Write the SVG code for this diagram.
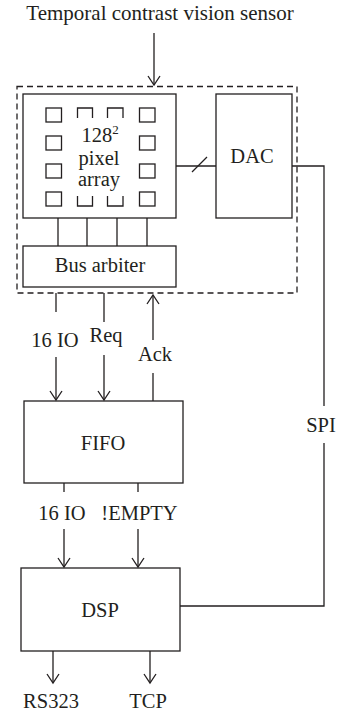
<svg xmlns="http://www.w3.org/2000/svg" width="337" height="714" viewBox="0 0 337 714">
<style>
text{font-family:"Liberation Serif","Times New Roman",serif;font-size:20.5px;fill:#231f20;text-anchor:middle}
.title{font-size:21px}
.box{fill:#fff;stroke:#231f20;stroke-width:1.3}
.ln{fill:none;stroke:#231f20;stroke-width:1.3}
.dash{fill:none;stroke:#231f20;stroke-width:1.3;stroke-dasharray:6 4}
</style>
<defs>
<marker id="ah" markerWidth="14" markerHeight="14" refX="10" refY="7" orient="auto" markerUnits="userSpaceOnUse">
<path d="M1,1 L10,7 L1,13" fill="none" stroke="#231f20" stroke-width="1.3"/>
</marker>
</defs>
<rect x="0" y="0" width="337" height="714" fill="#fff"/>
<text class="title" x="160" y="20">Temporal contrast vision sensor</text>
<g id="sensor">
<rect class="dash" x="17" y="86.5" width="280" height="206.5"/>
</g>
<g id="pixel-array">
<rect class="box" x="23" y="94" width="153" height="124"/>
<g class="ln">
<rect x="46" y="108" width="15.5" height="14"/>
<rect x="46" y="136" width="15.5" height="14"/>
<rect x="46" y="164" width="15.5" height="14"/>
<rect x="46" y="192" width="15.5" height="14"/>
<rect x="139.5" y="108" width="15.5" height="14"/>
<rect x="139.5" y="136" width="15.5" height="14"/>
<rect x="139.5" y="164" width="15.5" height="14"/>
<rect x="139.5" y="192" width="15.5" height="14"/>
<path d="M77.5,118 V108 H92.5 V118 M107.5,118 V108 H123 V118"/>
<path d="M77.5,196 V206 H92.5 V196 M107.5,196 V206 H123 V196"/>
</g>
<text x="100" y="142">128<tspan dy="-8" font-size="13">2</tspan></text>
<text x="99" y="165">pixel</text>
<text x="99" y="186">array</text>
</g>
<g id="dac">
<rect class="box" x="216" y="94" width="76" height="124"/>
<text x="252" y="163">DAC</text>
</g>
<g id="bus-arbiter">
<rect class="box" x="23" y="246" width="153" height="41"/>
<text x="100" y="272">Bus arbiter</text>
</g>
<g id="fifo">
<rect class="box" x="24" y="401" width="159" height="82"/>
<text x="103" y="450">FIFO</text>
</g>
<g id="dsp">
<rect class="box" x="21" y="568" width="159" height="83"/>
<text x="100" y="617">DSP</text>
</g>
<g id="connectors" class="ln">
<line x1="154" y1="33" x2="154" y2="85" marker-end="url(#ah)"/>
<line x1="176" y1="166" x2="216" y2="166"/>
<line x1="192" y1="172" x2="207" y2="157"/>
<path d="M292,166 H324 V406"/>
<path d="M324,443 V606 H180"/>
<line x1="58" y1="218" x2="58" y2="246"/>
<line x1="87" y1="218" x2="87" y2="246"/>
<line x1="117" y1="218" x2="117" y2="246"/>
<line x1="147" y1="218" x2="147" y2="246"/>
<line x1="56" y1="293" x2="56" y2="312"/>
<line x1="56" y1="357" x2="56" y2="400" marker-end="url(#ah)"/>
<line x1="104" y1="293" x2="104" y2="322"/>
<line x1="104" y1="355" x2="104" y2="400" marker-end="url(#ah)"/>
<line x1="153" y1="401" x2="153" y2="373"/>
<line x1="153" y1="340" x2="153" y2="295" marker-end="url(#ah)"/>
<line x1="64" y1="483" x2="64" y2="492"/>
<line x1="138" y1="483" x2="138" y2="492"/>
<line x1="64" y1="529" x2="64" y2="567" marker-end="url(#ah)"/>
<line x1="138" y1="529" x2="138" y2="567" marker-end="url(#ah)"/>
<line x1="53" y1="651" x2="53" y2="683" marker-end="url(#ah)"/>
<line x1="150" y1="651" x2="150" y2="683" marker-end="url(#ah)"/>
</g>
<g id="labels">
<text x="321" y="432">SPI</text>
<text x="55" y="347">16 IO</text>
<text x="106" y="342">Req</text>
<text x="155" y="361">Ack</text>
<text x="62" y="520">16 IO</text>
<text x="139.5" y="520">!EMPTY</text>
<text x="51" y="708">RS323</text>
<text x="148" y="708">TCP</text>
</g>
</svg>
